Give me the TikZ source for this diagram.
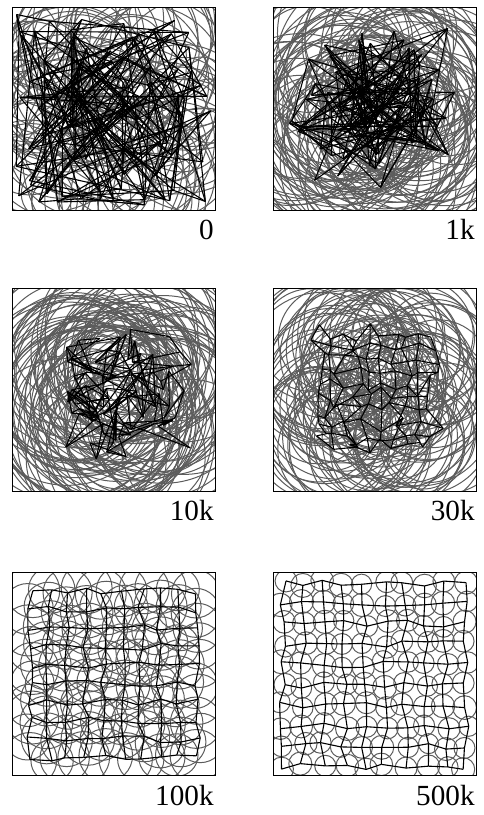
\documentclass[tikz,border=0pt]{standalone}
\usepackage{fontspec}
\setmainfont{Liberation Serif}
\definecolor{ringgray}{gray}{0.36}

\begin{document}
\begin{tikzpicture}[x=0.5pt, y=0.5pt,
    ring/.style={ringgray, line width=0.5pt},
    link/.style={black, line width=0.55pt},
    frame/.style={black, line width=0.5pt},
    steplabel/.style={anchor=base east, inner sep=0pt, font=\fontsize{14.6}{16}\selectfont}]
  \useasboundingbox (0,0) rectangle (483,815);
  % panels: lower left corner, grid spacing, jitter, concentration, radii, seed, label
  \foreach \pn/\px/\py/\sp/\jt/\kk/\rlo/\rhi/\sd/\lab in {
      a/12/604/0/98/0/25/120/11/0,
      b/273/604/0/92/0.55/50/110/23/1k,
      c/12/323/10/38/0.7/50/100/37/10k,
      d/273/323/12.5/16/1/42/78/41/30k,
      e/12/39/18.5/3.5/0/21/27/53/100k,
      f/273/39/20.4/3.5/0/10/12/67/500k}
  {
    \pgfmathsetseed{\sd}
    \begin{scope}
      \clip (\px,\py) rectangle ++(203,203);
      % neurons with their circles
      \foreach \i in {0,...,9}
        \foreach \j in {0,...,9}
        {
          \pgfmathsetmacro\nx{\px+101.5+\sp*(\i-4.5)+\jt*rand*(1-\kk+\kk*rnd)}
          \pgfmathsetmacro\ny{\py+101.5+\sp*(\j-4.5)+\jt*rand*(1-\kk+\kk*rnd)}
          \pgfmathsetmacro\rr{\rlo+(\rhi-\rlo)*rnd}
          \coordinate (\pn-\i-\j) at (\nx,\ny);
          \draw[ring] (\pn-\i-\j) circle[radius=\rr];
        }
      % grid links
      \foreach \i in {0,...,9}
        \foreach \j [count=\jn] in {0,...,8}
        {
          \draw[link] (\pn-\i-\j) -- (\pn-\i-\jn);
          \draw[link] (\pn-\j-\i) -- (\pn-\jn-\i);
        }
    \end{scope}
    \draw[frame] (\px,\py) rectangle ++(203,203);
    \node[steplabel] (lab-\pn) at (\px+202,\py-29) {\lab};
  }
\end{tikzpicture}
\end{document}
